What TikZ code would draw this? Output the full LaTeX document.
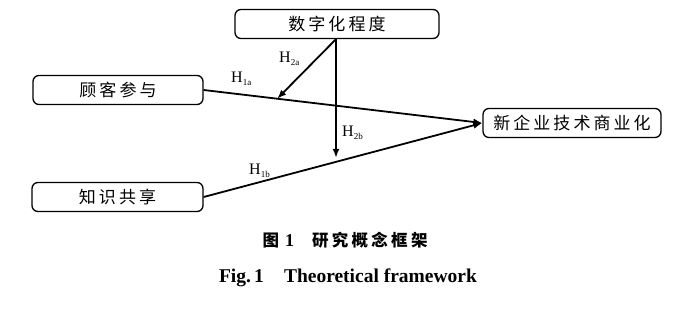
\documentclass[tikz,border=0pt]{standalone}
\usepackage{fontspec}
\setmainfont{Liberation Serif}
\newfontfamily\cjk[LetterSpace=18]{Noto Sans CJK SC}
\newfontfamily\cjkcap[LetterSpace=20]{Noto Sans CJK SC}
\usetikzlibrary{arrows.meta,calc}
\newcommand{\hsub}[2]{H\raisebox{-3pt}{\fontsize{9}{9}\selectfont #1#2}}
\tikzset{
  box/.style={draw, line width=1.3pt, rounded corners=6pt, minimum height=29pt, inner sep=0pt, font=\cjk\fontsize{17}{17}\selectfont},
  conn/.style={line width=1.8pt, -{Latex[length=9pt,width=7pt]}},
  hlab/.style={font=\fontsize{16}{16}\selectfont, inner sep=0pt, anchor=base west},
}
\begin{document}
\begin{tikzpicture}[x=1pt,y=-1pt]
\useasboundingbox (0,0) rectangle (700,310);
\node[box, minimum width=204pt] (dig) at (337,24) {数字化程度};
\node[box, minimum width=170pt] (cus) at (118,90) {顾客参与};
\node[box, minimum width=171pt] (kno) at (117.5,197) {知识共享};
\node[box, minimum width=178pt] (new) at (572,123) {新企业技术商业化};
\coordinate (m1) at ($(cus.east)!0.264!(new.west)$);
\coordinate (m2) at ($(kno.east)!0.475!(new.west)+(0,-4)$);
\coordinate (d0) at ([xshift=-1pt]dig.south);
\draw[conn] (cus.east) -- (new.west);
\draw[conn] (kno.east) -- (new.west);
\draw[conn] (d0) -- (m1);
\draw[conn] (d0) -- (d0 |- m2);
\node[hlab] (h1a) at (231,83) {\hsub{1}{a}};
\node[hlab] (h2a) at (279,63) {\hsub{2}{a}};
\node[hlab] (h2b) at (342,136) {\hsub{2}{b}};
\node[hlab] (h1b) at (249,174) {\hsub{1}{b}};
\node[inner sep=0pt, anchor=base] (cap1) at (345,246) {{\cjkcap\bfseries\fontsize{16.5}{17}\selectfont 图}\hspace{6pt}{\bfseries\fontsize{18}{18}\selectfont 1}\hspace{18pt}{\cjkcap\bfseries\fontsize{16.5}{17}\selectfont 研究概念框架}};
\node[inner sep=0pt, anchor=base] (cap2) at (348,282) {\bfseries\fontsize{19.5}{20}\selectfont Fig.\,1\hspace{20pt}Theoretical framework};
\end{tikzpicture}
\end{document}
